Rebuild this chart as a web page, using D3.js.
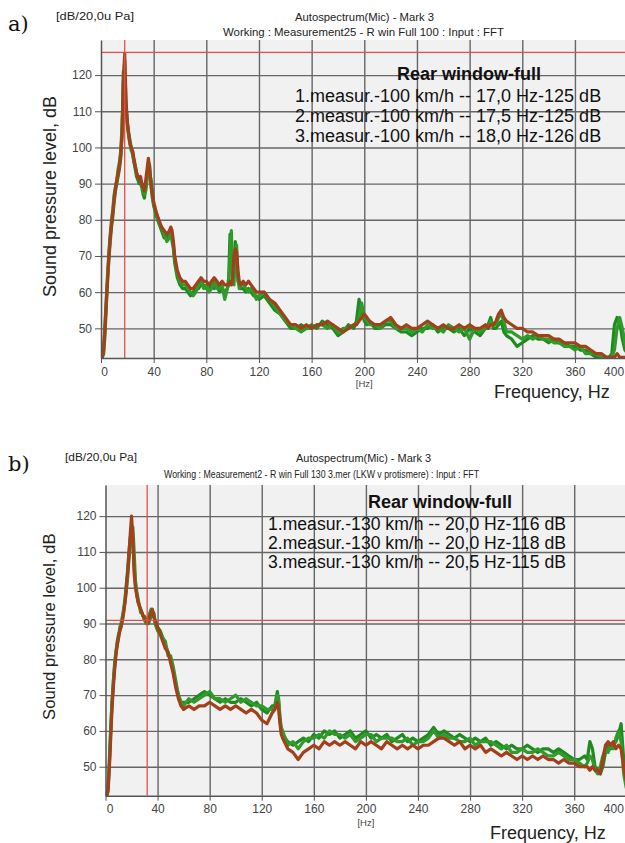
<!DOCTYPE html>
<html><head><meta charset="utf-8">
<script src="https://cdn.jsdelivr.net/npm/d3@7"></script>
<style>body{margin:0;background:#fff}svg{display:block}</style>
</head><body>
<svg id="c" width="625" height="843"></svg>
<script>
// ---------- data ----------
const xTicks = [0,40,80,120,160,200,240,280,320,360,400];
const yTicks = [50,60,70,80,90,100,110,120];

const freqA = [0,1,2,3,4,5,6,7,8,9,10,11,12,13,14,15,16,17,18,19,20,21,22,23,24,25,26,27,28,29,30,31,32,33,34,35,36,37,38,39,40,
42,44,46,48,50,52,53,54,55,56,
58,60,62,64,66,68,70,72,74,76,78,80,82,84,86,88,90,92,94,96,
97,98,99,100,101,102,103,104,105,106,
108,110,112,114,116,118,120,
124,128,132,136,140,144,148,152,156,160,164,168,172,176,180,184,188,192,
194,196,198,200,202,204,
208,212,216,220,224,228,232,236,240,244,248,252,256,260,264,268,272,276,280,284,288,292,
294,296,298,300,302,304,306,308,
312,316,320,324,328,332,336,340,344,348,352,356,360,364,368,372,376,380,384,
386,388,390,392,394,396,398,400];

const a1 = [42,42,43,48,56,63,69,74,78,81,85,88,90,92,94,97,103,121,117,111,107,104,102,100,98,96,94,92,91,90,90,89,87,86,89,92,95,93,91,88,84,
81,79,77,75,75,76,77,74,72,68,
64,62,61,61,60,59,60,61,61,62,62,61,61,62,61,62,60,61,60,61,
64,76,72,63,66,74,70,63,62,61,
61,60,61,60,59,59,58,
59,57,55,54,52,50,50,51,50,51,50,52,51,50,48,49,51,50,
52,58,55,52,51,52,
50,50,51,51,50,49,49,48,49,50,50,51,49,50,50,49,50,48,50,49,48,50,
51,53,50,50,51,52,49,48,
47,45,46,47,48,47,47,46,47,46,46,45,45,44,44,43,42,42,42,
42,43,51,53,52,47,44,43];

const a2 = [42,42,45,51,58,65,71,76,80,83,87,89,91,94,96,99,106,118,124,112,106,103,101,99,99,96,95,93,92,91,91,90,88,87,88,91,96,95,89,86,84,
82,79,78,76,74,75,76,75,73,69,
65,63,62,62,61,60,59,60,62,63,61,62,60,61,63,61,61,62,58,61,
62,70,77,66,62,71,73,65,61,62,
62,61,60,61,60,58,59,
60,58,56,54,52,51,50,49,50,50,51,51,50,51,49,50,50,51,
51,53,57,53,52,51,
51,50,52,52,50,50,50,49,50,49,51,50,50,49,51,50,49,50,47,50,49,50,
50,52,51,51,53,54,52,49,
49,48,47,48,47,48,47,47,46,46,45,45,44,45,43,43,43,42,42,
42,42,44,50,53,50,46,44];

const a3 = [42,42,44,50,57,64,70,75,79,82,86,89,91,93,95,98,104,118,126,113,107,104,101,100,99,97,95,93,92,91,92,90,89,88,91,94,97,94,90,87,85,
82,80,78,77,76,77,78,77,74,70,
66,64,63,63,62,61,61,62,63,64,63,63,62,63,64,63,62,63,62,62,
62,63,62,64,70,72,71,66,63,62,
63,62,63,62,61,60,60,
60,58,57,55,53,51,51,50,51,50,51,51,52,51,50,49,50,51,
51,52,53,54,53,52,
51,51,52,53,51,50,51,50,50,51,52,51,50,51,50,50,51,50,51,50,50,51,
50,51,51,52,54,55,53,52,
51,50,50,49,49,48,48,48,47,47,46,46,46,45,45,44,43,43,42,
42,42,42,43,42,42,42,42];

const freqB = [0,1,2,3,4,5,6,7,8,9,10,11,12,13,14,15,16,17,18,19,20,21,22,23,24,25,26,27,28,29,30,31,32,33,34,35,36,37,38,39,40,
42,44,46,48,50,52,54,56,58,60,
64,68,72,76,80,84,88,92,96,100,104,108,112,116,120,124,128,
130,131,132,133,134,135,136,
140,144,148,152,156,160,164,168,172,176,180,184,188,192,196,200,204,208,212,216,
220,224,228,232,236,240,244,248,252,256,260,264,268,272,276,280,284,288,292,296,
300,304,308,312,316,320,324,328,332,336,340,344,348,352,356,360,364,368,
370,372,374,376,378,380,382,384,386,388,390,392,394,396,398,400];

const b1 = [42,42,44,51,60,68,74,78,82,85,87,88,90,92,94,97,101,105,110,114,116,113,106,101,98,96,95,94,93,92,92,91,90,90,91,92,93,93,91,90,89,
88,86,84,82,80,77,73,70,68,68,
68,69,70,71,70,69,68,69,68,68,69,68,67,68,66,65,67,
67,69,71,68,63,60,59,
57,56,57,58,57,59,58,60,59,60,58,59,60,58,59,60,58,59,58,59,
57,58,59,57,58,57,58,59,61,59,60,59,58,59,58,57,58,57,58,56,
57,56,55,56,55,55,56,55,54,55,55,54,55,54,53,52,52,53,
52,57,55,50,49,48,50,54,56,55,56,57,59,62,52,45];

const b2 = [42,42,45,52,61,68,73,79,82,84,86,89,90,91,94,96,99,103,108,112,117,117,110,102,99,97,95,93,93,92,91,90,91,92,93,94,92,93,90,89,88,
87,86,85,81,81,78,74,70,68,67,
69,68,69,70,71,69,69,68,69,70,68,69,68,67,67,66,66,
66,68,70,69,64,61,60,
56,57,55,57,58,58,59,58,60,59,59,58,59,57,58,59,59,57,58,58,
58,57,57,58,56,57,57,58,60,58,59,58,58,57,57,58,56,57,57,57,
56,55,56,54,54,55,54,54,55,54,53,53,54,53,52,52,51,50,
51,53,52,49,48,50,53,55,54,56,55,58,60,57,48,44];

const b3 = [42,42,43,50,58,66,72,77,81,84,86,88,89,91,93,96,100,104,109,115,120,114,104,100,98,96,95,94,93,92,91,91,90,91,92,93,94,92,91,90,89,
87,85,83,82,79,76,72,69,67,66,
67,66,67,67,68,67,66,67,66,67,66,65,66,65,63,62,65,
66,67,68,66,62,59,58,
55,54,52,54,55,56,55,57,56,57,56,57,56,55,57,56,57,56,55,57,
56,55,56,55,56,55,56,56,57,58,58,57,56,57,55,56,55,56,54,55,
54,53,54,53,52,53,52,53,52,53,52,52,51,52,51,51,50,50,
50,49,50,49,49,48,52,56,57,56,57,55,56,55,50,46];

const cursorA = [18, 126.3];   // [Hz, dB]
const cursorB = [32, 90.9];

const legendTitle = "Rear window-full";
const legendA = ["1.measur.-100 km/h -- 17,0 Hz-125 dB","2.measur.-100 km/h -- 17,5 Hz-125 dB","3.measur.-100 km/h -- 18,0 Hz-126 dB"];
const legendB = ["1.measur.-130 km/h -- 20,0 Hz-116 dB","2.measur.-130 km/h -- 20,0 Hz-118 dB","3.measur.-130 km/h -- 20,5 Hz-115 dB"];
const unitLabel = "[dB/20,0u Pa]";
const titleLine = "Autospectrum(Mic) - Mark 3";
const workA = "Working : Measurement25 - R win Full 100 : Input : FFT";
const workB = "Working : Measurement2 - R win Full 130 3.mer (LKW v protismere) : Input : FFT";
const yTitle = "Sound pressure level, dB";
const xTitle = "Frequency, Hz";

// ---------- drawing ----------
const svg = d3.select('#c');
const colors = ['#1f8a1f','#2f9b2a','#a3401c'];
const gridCol = '#666';
const SANS = 'Liberation Sans, Arial, sans-serif';

function drawPanel(p){
  const x = d3.scaleLinear().domain([0,400]).range([p.xL, p.xR]);
  const y = d3.scaleLinear().domain(p.yDom).range([p.yB, p.yT]);
  const W = 625 - p.xL, H = p.yB - p.yT;
  const g = svg.append('g');
  svg.append('clipPath').attr('id','clip'+p.id).append('rect')
    .attr('x',p.xL).attr('y',p.yT).attr('width',W).attr('height',H);
  g.append('rect').attr('x',p.xL).attr('y',p.yT).attr('width',W).attr('height',H).attr('fill','#f1f1f1');

  // grid
  g.append('g').attr('transform',`translate(0,${p.yB})`)
    .call(d3.axisBottom(x).tickValues(xTicks.slice(1)).tickSize(-H).tickSizeOuter(0).tickFormat(''))
    .call(s=>{s.select('.domain').remove(); s.selectAll('line').attr('stroke',gridCol).attr('stroke-width',1.4);});
  g.append('g').attr('transform',`translate(${p.xL},0)`)
    .call(d3.axisLeft(y).tickValues(yTicks).tickSize(-W).tickSizeOuter(0).tickFormat(''))
    .call(s=>{s.select('.domain').remove(); s.selectAll('line').attr('stroke',gridCol).attr('stroke-width',1.4);});

  // series
  const plot = g.append('g').attr('clip-path',`url(#clip${p.id})`);
  p.series.forEach((vals,k)=>{
    const line = d3.line().x((d,i)=>x(p.freq[i])).y(d=>y(d));
    plot.append('path').datum(vals).attr('d',line).attr('fill','none')
      .attr('stroke',colors[k]).attr('stroke-width',3.2).attr('stroke-linejoin','round');
  });

  // cursor lines
  plot.append('line').attr('x1',x(p.cursor[0])).attr('x2',x(p.cursor[0])).attr('y1',p.yT).attr('y2',p.yB)
    .attr('stroke','#e0504a').attr('stroke-width',1.3);
  plot.append('line').attr('x1',p.xL).attr('x2',625).attr('y1',y(p.cursor[1])).attr('y2',y(p.cursor[1]))
    .attr('stroke','#e0504a').attr('stroke-width',1.3);

  // legend
  g.append('text').attr('x',p.legT[0]).attr('y',p.legT[1]).text(legendTitle)
    .attr('font-family',SANS).attr('font-size',18).attr('font-weight','bold').attr('fill','#111');
  p.legend.forEach((t,i)=>{
    g.append('text').attr('x',p.legX).attr('y',p.legY[i]).text(t)
      .attr('font-family',SANS).attr('font-size',p.legSize).attr('fill','#111');
  });

  // axes
  const ax = g.append('g').attr('transform',`translate(0,${p.yB})`)
    .call(d3.axisBottom(x).tickValues(xTicks).tickSize(5).tickSizeOuter(0).tickPadding(4));
  ax.select('.domain').attr('stroke','#555').attr('stroke-width',1.5);
  ax.selectAll('line').attr('stroke','#555');
  ax.selectAll('text').attr('font-family',SANS).attr('font-size',12).attr('fill','#444');
  ax.selectAll('.tick text').filter(d=>d===0).attr('dx',p.dx0);
  ax.selectAll('.tick text').filter(d=>d===400).attr('dx',p.dx400);

  const ay = g.append('g').attr('transform',`translate(${p.xL},0)`)
    .call(d3.axisLeft(y).tickValues(yTicks).tickSize(6).tickSizeOuter(0).tickPadding(3));
  ay.select('.domain').attr('stroke','#555').attr('stroke-width',1.5);
  ay.selectAll('line').attr('stroke','#555');
  ay.selectAll('text').attr('font-family',SANS).attr('font-size',12).attr('fill','#444');

  // [Hz] under 200
  g.append('text').attr('x',x(200)).attr('y',p.hzY).attr('text-anchor','middle').text('[Hz]')
    .attr('font-family',SANS).attr('font-size',9.5).attr('fill','#444');

  // axis titles
  g.append('text').attr('x',p.xTitle[0]).attr('y',p.xTitle[1]).text(xTitle)
    .attr('font-family',SANS).attr('font-size',18).attr('fill','#222');
  g.append('text').attr('transform',`translate(${p.yTitle[0]},${p.yTitle[1]}) rotate(-90)`)
    .attr('text-anchor','middle').text(yTitle)
    .attr('font-family',SANS).attr('font-size',p.yTitle[2]).attr('fill','#222');

  // header
  g.append('text').attr('x',8).attr('y',p.tag[1]).text(p.tag[0])
    .attr('font-family','DejaVu Serif, Liberation Serif, serif').attr('font-size',21).attr('fill','#111');
  const hdr = (txt,x0,x1,yb,fs)=>g.append('text').attr('x',x0).attr('y',yb).text(txt)
    .attr('font-family',SANS).attr('font-size',fs).attr('fill','#222')
    .attr('textLength',x1-x0).attr('lengthAdjust','spacingAndGlyphs');
  hdr(unitLabel,p.h1[0],p.h1[1],p.h1[2],11);
  hdr(titleLine,p.h2[0],p.h2[1],p.h2[2],11);
  hdr(p.work,p.h3[0],p.h3[1],p.h3[2],11);
}

drawPanel({id:'A', xL:101, xR:627.6, yT:40, yB:358, yDom:[41.8,129.7],
  freq:freqA, series:[a1,a2,a3], cursor:cursorA,
  legT:[397,80], legX:295, legY:[101.5,121.5,141.5], legSize:18, legend:legendA,
  dx0:3, dx400:-14, hzY:387, xTitle:[494,398], yTitle:[56,196.5,18],
  tag:['a)',31], h1:[56,134,20], h2:[295,434,21], h3:[223,504,36], work:workA});

drawPanel({id:'B', xL:105.5, xR:626.3, yT:485, yB:795.7, yDom:[41.9,128.7],
  freq:freqB, series:[b1,b2,b3], cursor:cursorB,
  legT:[368,508], legX:268, legY:[530,549,568], legSize:17.6, legend:legendB,
  dx0:4, dx400:-13, hzY:826, xTitle:[490,839], yTitle:[55,626.7,16.7],
  tag:['b)',471], h1:[65,137,461], h2:[296,431,462], h3:[164,479,478], work:workB});
</script>
</body></html>
